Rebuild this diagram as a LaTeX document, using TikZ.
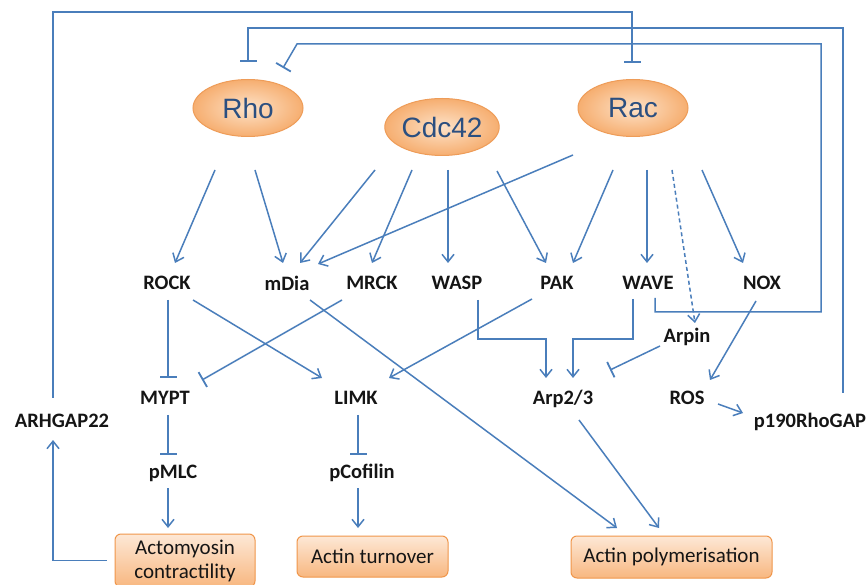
\documentclass[tikz,border=0pt]{standalone}
\usepackage{fontspec}
\setmainfont{Carlito}
\newfontfamily\ellfont{Liberation Sans}
\usetikzlibrary{arrows.meta,calc,shapes.geometric}
\definecolor{lineblue}{HTML}{4A7EBB}
\definecolor{ellborder}{HTML}{EE9C58}
\definecolor{ellin}{HTML}{FDE2C8}
\definecolor{ellout}{HTML}{F6AE70}
\definecolor{ellText}{HTML}{2B4F80}
\definecolor{boxtop}{HTML}{FDE8D6}
\definecolor{boxbot}{HTML}{F8B780}
\definecolor{boxborder}{HTML}{F0964A}
\definecolor{labtext}{HTML}{151515}
\begin{document}
\begin{tikzpicture}[x=1pt,y=-1pt,
  ell/.style={ellipse, draw=ellborder, line width=1pt, inner color=ellin, outer color=ellout,
    minimum width=110pt, minimum height=57pt, inner sep=0pt,
    font=\ellfont\fontsize{28}{30}\selectfont, text=ellText},
  lab/.style={inner sep=0pt, font=\bfseries\fontsize{20.5}{24}\selectfont, text=labtext},
  outbox/.style={draw=boxborder, line width=1pt, rounded corners=6pt, top color=boxtop, bottom color=boxbot,
    inner sep=0pt, align=center, font=\fontsize{21}{24}\selectfont, text=labtext},
  conn/.style={draw=lineblue, line width=1.5pt},
  arr/.style={conn, -{Straight Barb[length=7.5pt,width=12pt,line width=1.5pt]}},
  inh/.style={conn, -{Bar[width=17pt,line width=1.8pt]}},
  dsh/.style={arr, dash pattern=on 4pt off 3pt}
]
\clip (0,0) rectangle (868,585);
\fill[white] (0,0) rectangle (868,585);

% main nodes
\node[ell] (Rho) at (248,108) {Rho};
\node[ell] (Cdc42) at (442,127) {Cdc42};
\node[ell] (Rac) at (633,108) {Rac};

\node[lab] (ROCK) at (167,283) {ROCK};
\node[lab] (mDia) at (287,283) {mDia};
\node[lab] (MRCK) at (372,283) {MRCK};
\node[lab] (WASP) at (457,283) {WASP};
\node[lab] (PAK) at (557,283) {PAK};
\node[lab] (WAVE) at (648,283) {WAVE};
\node[lab] (NOX) at (762,283) {NOX};
\node[lab] (Arpin) at (687,337) {Arpin};

\node[lab] (MYPT) at (165,398) {MYPT};
\node[lab] (LIMK) at (356,398) {LIMK};
\node[lab] (Arp) at (563,399) {Arp2/3};
\node[lab] (ROS) at (687,398) {ROS};
\node[lab] (ARHGAP) at (62,421) {ARHGAP22};
\node[lab] (p190) at (810,422) {p190RhoGAP};

\node[lab] (pMLC) at (173,473) {pMLC};
\node[lab] (pCof) at (362,473) {pCofilin};

\node[outbox, minimum width=140pt, minimum height=53pt] (Acto) at (185,560.5) {Actomyosin\\contractility};
\node[outbox, minimum width=151pt, minimum height=41pt] (Turn) at (372.5,556.5) {Actin turnover};
\node[outbox, minimum width=201pt, minimum height=42pt] (Poly) at (671.5,557) {Actin polymerisation};

% GTPases to effectors
\draw[arr] ($(Rho)+(-33,62)$) -- ($(ROCK)+(8,-20)$);
\draw[arr] ($(Rho)+(7,62)$) -- ($(mDia)+(-4,-20)$);
\draw[arr] ($(Cdc42)+(-67,43)$) -- ($(mDia)+(13,-20)$);
\draw[arr] ($(Cdc42)+(-30,43)$) -- ($(MRCK)+(0,-20)$);
\draw[arr] ($(Cdc42)+(6,43)$) -- ($(WASP)+(-9,-20)$);
\draw[arr] ($(Rac)+(-60,47)$) -- ($(mDia)+(31,-19)$);
\draw[arr] ($(Cdc42)+(55,44)$) -- ($(PAK)+(-11,-20)$);
\draw[arr] ($(Rac)+(-20,62)$) -- ($(PAK)+(16,-20)$);
\draw[arr] ($(Rac)+(14,62)$) -- ($(WAVE)+(-1,-20)$);
\draw[dsh] ($(Rac)+(39,62)$) -- ($(Arpin)+(8,-14)$);
\draw[arr] ($(Rac)+(69,62)$) -- ($(NOX)+(-19,-20)$);

% effectors to downstream
\draw[inh] ($(ROCK)+(1,17)$) -- ($(MYPT)+(3,-20)$);
\draw[arr] ($(ROCK)+(26,17)$) -- ($(LIMK)+(-34,-20)$);
\draw[inh] ($(MRCK)+(-30,17)$) -- ($(MYPT)+(37,-18)$);
\draw[arr] ($(mDia)+(23,17)$) -- ($(Poly)+(-54.5,-29)$);
\draw[arr] ($(PAK)+(-25,16)$) -- ($(LIMK)+(33,-20)$);
\draw[arr] ($(WASP)+(21,17)$) |- ($(Arp)+(-17,-60)$) -- ($(Arp)+(-17,-21)$);
\draw[arr] ($(WAVE)+(-15,16)$) |- ($(Arp)+(10,-60)$) -- ($(Arp)+(10,-21)$);
\draw[inh] ($(Arpin)+(-27,9)$) -- ($(Arp)+(47,-29)$);
\draw[arr] ($(NOX)+(-6,18)$) -- ($(ROS)+(23,-18)$);
\draw[arr] ($(ROS)+(31,6)$) -- ($(p190)+(-67,-9)$);

% feedback loops
\draw[inh] ($(p190)+(33,-29)$) |- ($(Rho)+(0,-80)$) -- ($(Rho)+(0,-46)$);
\draw[inh] ($(WAVE)+(7,15)$) -- ($(WAVE)+(7,29)$) -| ($(Rho)+(573,-64)$) -- ($(Rho)+(49,-64)$) -- ($(Rho)+(35,-40)$);
\draw[inh] ($(ARHGAP)+(-9,-23)$) |- ($(Rac)+(-1,-96)$) -- ($(Rac)+(-1,-45)$);

% lower chains
\draw[inh] ($(MYPT)+(3,17)$) -- ($(pMLC)+(-5,-18)$);
\draw[arr] ($(pMLC)+(-5,15)$) -- ($(pMLC)+(-5,55)$);
\draw[inh] ($(LIMK)+(2,17)$) -- ($(pCof)+(-4,-18)$);
\draw[arr] ($(pCof)+(-4,15)$) -- ($(pCof)+(-4,55)$);
\draw[arr] ($(Arp)+(16,21)$) -- ($(Poly)+(-12.5,-29)$);
\draw[arr] ($(Acto.west)+(-8,0)$) -| ($(ARHGAP)+(-9,19)$);
\end{tikzpicture}
\end{document}
